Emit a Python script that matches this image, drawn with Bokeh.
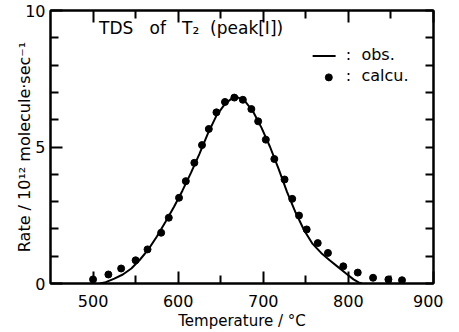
from bokeh.plotting import figure
from bokeh.models import LinearAxis, FixedTicker, Range1d, Label, CustomJSTickFormatter
from bokeh.embed import file_html
from bokeh.resources import INLINE

# observed curve
obs_T = [508, 515, 525, 535, 545, 555, 565, 575, 585, 595, 605, 615, 625, 635, 645,
         655, 663, 670, 678, 688, 698, 708, 718, 728, 738, 748, 758, 768, 778, 788,
         798, 806, 812, 816]
obs_V = [0.0, 0.05, 0.18, 0.33, 0.55, 0.87, 1.25, 1.72, 2.25, 2.8, 3.4, 4.05, 4.75, 5.5, 6.15,
         6.58, 6.78, 6.82, 6.7, 6.3, 5.7, 5.0, 4.2, 3.35, 2.6, 1.95, 1.45, 1.12, 0.85, 0.6,
         0.35, 0.15, 0.04, 0.0]

# calculated points
calc_T = [500, 518, 533, 550, 564, 580, 589, 601, 609, 619, 628, 636, 645, 655, 666, 676,
          686, 694, 703, 713, 725, 734, 742, 751, 764, 776, 794, 811, 829, 847, 863]
calc_V = [0.15, 0.33, 0.55, 0.85, 1.25, 1.86, 2.41, 3.14, 3.75, 4.42, 5.07, 5.66, 6.27, 6.65,
          6.81, 6.73, 6.39, 5.94, 5.27, 4.56, 3.81, 3.10, 2.49, 1.98, 1.48, 1.12, 0.63, 0.40,
          0.21, 0.15, 0.12]

x_major = [500, 600, 700, 800, 900]
x_minor = [550, 650, 750, 850]
y_major = [0, 5, 10]
y_minor = [1, 2, 3, 4, 6, 7, 8, 9]

FONT = "DejaVu Sans"
NB = "\u00a0"

p = figure(width=443, height=332, output_backend="svg", toolbar_location=None,
           x_range=Range1d(450, 900), y_range=Range1d(0, 10),
           x_axis_location=None, y_axis_location=None,
           min_border_left=50, min_border_right=10, min_border_top=10, min_border_bottom=30)
p.grid.visible = False
p.outline_line_color = "black"
p.outline_line_width = 2
p.background_fill_color = "white"
p.border_fill_color = "white"


def style(ax, labels=True):
    ax.major_tick_in = 12
    ax.major_tick_out = 0
    ax.minor_tick_in = 8
    ax.minor_tick_out = 0
    ax.major_tick_line_width = 2
    ax.minor_tick_line_width = 2
    ax.axis_line_width = 2
    ax.major_tick_line_color = "black"
    ax.minor_tick_line_color = "black"
    ax.axis_line_color = "black"
    ax.major_label_text_font = FONT
    ax.major_label_text_color = "black"
    ax.major_label_text_font_size = "16px"
    ax.axis_label_text_font = FONT
    ax.axis_label_text_font_style = "normal"
    ax.axis_label_text_font_size = "15px"
    ax.axis_label_text_color = "black"
    if not labels:
        ax.formatter = CustomJSTickFormatter(code="return ''")
        ax.major_label_standoff = 0
        ax.major_label_text_font_size = "1px"


xt = FixedTicker(ticks=x_major, minor_ticks=x_minor)
yt = FixedTicker(ticks=y_major, minor_ticks=y_minor)

bx = LinearAxis(ticker=xt, axis_label="Temperature / °C")
style(bx)
bx.major_label_standoff = 11
bx.axis_label_standoff = 2
p.add_layout(bx, "below")

tx = LinearAxis(ticker=xt)
style(tx, labels=False)
p.add_layout(tx, "above")

ly = LinearAxis(ticker=yt, axis_label="Rate / 10¹² molecule·sec⁻¹")
style(ly)
ly.major_label_standoff = 5
ly.axis_label_standoff = -12
ly.axis_label_text_font_size = "16px"
p.add_layout(ly, "left")

ry = LinearAxis(ticker=yt)
style(ry, labels=False)
ry.major_tick_in = 8
p.add_layout(ry, "right")

p.line(obs_T, obs_V, line_color="black", line_width=2)
p.scatter(calc_T, calc_V, size=7, color="black")

# title inside plot
title = "TDS" + NB * 3 + "of" + NB * 3 + "T₂" + NB * 2 + "(peak[I])"
p.add_layout(Label(x=507, y=9.0, text=title, text_font=FONT,
                   text_font_size="17px", text_color="black"))

# legend
p.line([758, 785], [8.33, 8.33], line_color="black", line_width=2)
p.scatter([777], [7.55], size=7, color="black")
p.add_layout(Label(x=797, y=8.05, text=":" + NB * 2 + "obs.", text_font=FONT,
                   text_font_size="16px", text_color="black"))
p.add_layout(Label(x=797, y=7.27, text=":" + NB * 2 + "calcu.", text_font=FONT,
                   text_font_size="16px", text_color="black"))

open("out.html", "w").write(file_html(p, INLINE))
